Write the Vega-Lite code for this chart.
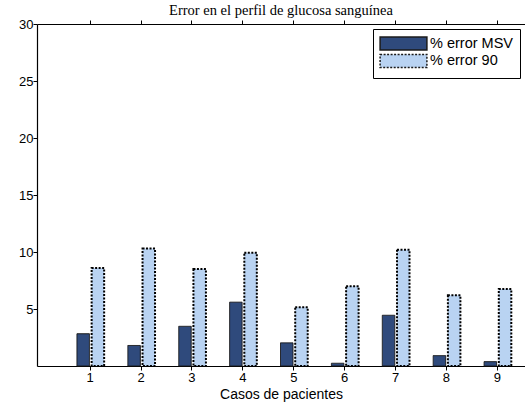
{
  "$schema": "https://vega.github.io/schema/vega-lite/v6.json",
  "width": 488,
  "height": 342,
  "autosize": {"type": "none"},
  "padding": {"left": 37, "top": 24, "right": 0, "bottom": 37},
  "background": "white",
  "title": {"text": "Error en el perfil de glucosa sanguínea", "font": "Liberation Serif", "fontSize": 14.5, "fontWeight": "normal", "color": "black", "offset": 0, "anchor": "middle"},
  "config": {
    "view": {"stroke": "transparent"},
    "axis": {"labelFont": "Liberation Sans", "titleFont": "Liberation Sans", "labelColor": "black", "titleColor": "black", "domainColor": "black", "domainWidth": 1.2, "tickColor": "black", "grid": false}
  },
  "data": {"values": [
    {"caso": 1, "serie": "% error MSV", "valor": 2.83},
    {"caso": 2, "serie": "% error MSV", "valor": 1.8},
    {"caso": 3, "serie": "% error MSV", "valor": 3.48},
    {"caso": 4, "serie": "% error MSV", "valor": 5.6},
    {"caso": 5, "serie": "% error MSV", "valor": 2.03},
    {"caso": 6, "serie": "% error MSV", "valor": 0.24},
    {"caso": 7, "serie": "% error MSV", "valor": 4.45},
    {"caso": 8, "serie": "% error MSV", "valor": 0.91},
    {"caso": 9, "serie": "% error MSV", "valor": 0.38},
    {"caso": 1, "serie": "% error 90", "valor": 8.6},
    {"caso": 2, "serie": "% error 90", "valor": 10.3},
    {"caso": 3, "serie": "% error 90", "valor": 8.5},
    {"caso": 4, "serie": "% error 90", "valor": 9.94},
    {"caso": 5, "serie": "% error 90", "valor": 5.16},
    {"caso": 6, "serie": "% error 90", "valor": 7.0},
    {"caso": 7, "serie": "% error 90", "valor": 10.2},
    {"caso": 8, "serie": "% error 90", "valor": 6.2},
    {"caso": 9, "serie": "% error 90", "valor": 6.75}
  ]},
  "encoding": {
    "x": {"field": "caso", "type": "quantitative", "scale": {"domain": [0.063, 9.455], "nice": false, "zero": false}},
    "y": {"field": "valor", "type": "quantitative", "scale": {"domain": [0, 30], "nice": false}},
    "color": {"field": "serie", "type": "nominal", "scale": {"domain": ["% error MSV", "% error 90"], "range": ["#2F4A7C", "#B9D3F2"]},
      "legend": {"title": null, "orient": "top-right", "offset": 5, "symbolType": "M-3.6,-1H3.6V1H-3.6Z", "symbolSize": 169, "symbolOffset": 16, "symbolStrokeColor": "black", "symbolStrokeWidth": 1.5, "labelFont": "Liberation Sans", "labelFontSize": 14.5, "labelColor": "black", "labelOffset": 19, "padding": 7, "rowPadding": -1.5, "strokeColor": "black", "fillColor": "white", "symbolOpacity": 1}},
    "strokeDash": {"field": "serie", "type": "nominal", "scale": {"domain": ["% error MSV", "% error 90"], "range": [[1, 0], [2, 1.5]]}}
  },
  "layer": [
    {
      "transform": [{"filter": "datum.serie === '% error MSV'"}],
      "mark": {"type": "bar", "width": 12.5, "xOffset": -6.5, "stroke": "#1a1a1a", "strokeWidth": 1, "opacity": 1},
      "encoding": {
        "x": {"field": "caso", "type": "quantitative", "axis": {"orient": "bottom", "values": [1,2,3,4,5,6,7,8,9], "tickSize": 4, "labelPadding": 1, "labelFontSize": 13, "title": "Casos de pacientes", "titleFontSize": 14, "titleFontWeight": "normal", "titlePadding": 3, "encode": {"ticks": {"update": {"y2": {"value": -5}}}}}},
        "y": {"field": "valor", "type": "quantitative", "axis": {"orient": "left", "values": [5,10,15,20,25,30], "tickSize": 4, "labelPadding": 0, "labelFontSize": 13, "title": null, "encode": {"ticks": {"update": {"x2": {"value": 5}}}}}}
      }
    },
    {
      "transform": [{"filter": "datum.serie === '% error 90'"}],
      "mark": {"type": "bar", "width": 12.5, "xOffset": 8.2, "stroke": "black", "strokeWidth": 2, "opacity": 1},
      "encoding": {
        "x": {"field": "caso", "type": "quantitative", "axis": {"orient": "top", "values": [1,2,3,4,5,6,7,8,9], "tickSize": 4, "labels": false, "title": null, "encode": {"ticks": {"update": {"y2": {"value": 5}}}}}},
        "y": {"field": "valor", "type": "quantitative", "axis": {"orient": "right", "values": [5,10,15,20,25,30], "tickSize": 4, "labels": false, "domain": false, "title": null, "encode": {"ticks": {"update": {"x2": {"value": -5}}}}}}
      }
    }
  ],
  "resolve": {"axis": {"x": "independent", "y": "independent"}}
}
